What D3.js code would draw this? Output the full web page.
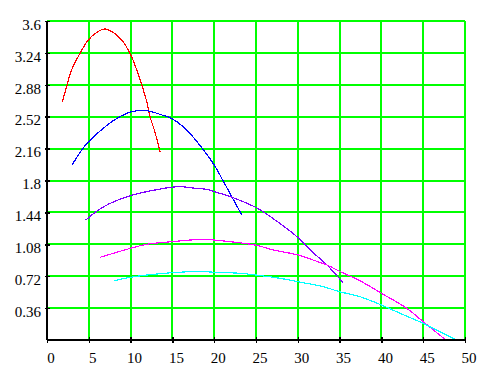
<!DOCTYPE html>
<html>
<head>
<meta charset="utf-8">
<script src="https://cdn.jsdelivr.net/npm/d3@7"></script>
<style>
  body { margin: 0; background: #fff; }
  svg { display: block; }
  svg text { font-family: "Liberation Serif", "DejaVu Serif", serif !important; font-size: 15px !important; }
</style>
</head>
<body>
<svg id="chart" width="489" height="376"></svg>
<script>
// tick values
const xTicks = [0, 5, 10, 15, 20, 25, 30, 35, 40, 45, 50];
const yTicks = [0.36, 0.72, 1.08, 1.44, 1.8, 2.16, 2.52, 2.88, 3.24, 3.6];

// curves as [x, y]
const redPts = [[1.83, 2.69], [2.35, 2.86], [2.95, 3.05], [3.95, 3.235], [4.94, 3.386], [5.94, 3.47],
  [6.86, 3.51], [7.93, 3.47], [8.93, 3.386], [9.93, 3.235], [10.73, 3.05], [11.4, 2.86],
  [11.93, 2.69], [12.32, 2.52], [12.84, 2.37], [13.55, 2.12]];
const bluePts = [[3.03, 1.98], [4.27, 2.16], [5, 2.24], [6.74, 2.39], [8.34, 2.50], [10.13, 2.577],
  [11.93, 2.588], [13.72, 2.54], [14.9, 2.50], [16.5, 2.39], [18.6, 2.16], [20, 1.975],
  [21.1, 1.79], [23.3, 1.41]];
const purplePts = [[4.63, 1.354], [5, 1.38], [5.74, 1.44], [7.5, 1.54], [10, 1.63], [12.5, 1.685],
  [15, 1.725], [16.1, 1.73], [17.5, 1.715], [19.1, 1.70], [20, 1.675], [22.3, 1.605],
  [25.1, 1.49], [27.5, 1.34], [29.9, 1.166], [31.9, 0.98], [33.5, 0.846], [35.4, 0.647]];
const magentaPts = [[6.34, 0.933], [10, 1.035], [11.9, 1.08], [15, 1.11], [18.5, 1.136], [20, 1.128],
  [22.8, 1.10], [25, 1.07], [27.1, 1.016], [30, 0.96], [31.9, 0.90], [33.5, 0.846],
  [35, 0.775], [37.4, 0.67], [40, 0.527], [43, 0.36], [45, 0.207], [47.7, 0]];
const cyanPts = [[8.05, 0.67], [10, 0.708], [15, 0.76], [18.7, 0.772], [20, 0.764], [23.1, 0.753],
  [25, 0.733], [27.9, 0.696], [30, 0.658], [33.1, 0.60], [35, 0.545], [37.4, 0.49],
  [40, 0.395], [42.5, 0.29], [45, 0.188], [46.4, 0.12], [49, 0]];

const series = [
  { pts: redPts, color: "#ff0000" },
  { pts: bluePts, color: "#0000ff" },
  { pts: purplePts, color: "#8000ff" },
  { pts: magentaPts, color: "#ff00ff" },
  { pts: cyanPts, color: "#00ffff" }
];

const svg = d3.select("#chart");
const x = d3.scaleLinear().domain([0, 50]).range([47, 465]);
const y = d3.scaleLinear().domain([0, 3.6]).range([340, 21]);

// green grid
const grid = svg.append("g").attr("shape-rendering", "crispEdges");
grid.selectAll(".vg")
  .data(xTicks.slice(1))
  .join("line")
  .attr("x1", d => x(d)).attr("x2", d => x(d))
  .attr("y1", y(3.6)).attr("y2", y(0))
  .attr("stroke", "#00ff00").attr("stroke-width", 2);
grid.selectAll(".hg")
  .data(yTicks)
  .join("line")
  .attr("x1", x(0)).attr("x2", x(50))
  .attr("y1", d => y(d)).attr("y2", d => y(d))
  .attr("stroke", "#00ff00").attr("stroke-width", 2);

// curves
const line = d3.line()
  .x(d => x(d[0]))
  .y(d => y(d[1]))
  .curve(d3.curveCatmullRom.alpha(0.5));

svg.append("g")
  .selectAll("path")
  .data(series)
  .join("path")
  .attr("d", d => line(d.pts))
  .attr("fill", "none")
  .attr("stroke", d => d.color)
  .attr("stroke-width", 1.2)
  .attr("shape-rendering", "crispEdges");

// axes
const xAxis = svg.append("g")
  .attr("transform", `translate(0,${y(0)})`)
  .call(d3.axisBottom(x).tickValues(xTicks).tickSize(3).tickPadding(9).tickFormat(d3.format("d")));
const yAxis = svg.append("g")
  .attr("transform", `translate(${x(0)},0)`)
  .call(d3.axisLeft(y).tickValues(yTicks).tickSize(3).tickPadding(3).tickFormat(d => d));

for (const ax of [xAxis, yAxis]) {
  ax.attr("shape-rendering", "crispEdges");
  ax.select(".domain").attr("stroke", "#000").attr("stroke-width", 1.5);
  ax.selectAll(".tick line").attr("stroke", "#000").attr("stroke-width", 1.5);
  ax.selectAll(".tick text").attr("fill", "#000");
}
// ticks cross the axis line
xAxis.selectAll(".tick line").attr("y1", -3).attr("y2", 3);
yAxis.selectAll(".tick line").attr("x1", -2).attr("x2", 3);
xAxis.select(".domain").attr("d", `M${x(0)},0H${x(50)}`);
yAxis.select(".domain").attr("d", `M0,${y(0)}V${y(3.6)}`);
xAxis.selectAll(".tick text").attr("dx", 3.5).attr("dy", "0.71em");
yAxis.selectAll(".tick text").attr("dy", "0.55em");
</script>
</body>
</html>
